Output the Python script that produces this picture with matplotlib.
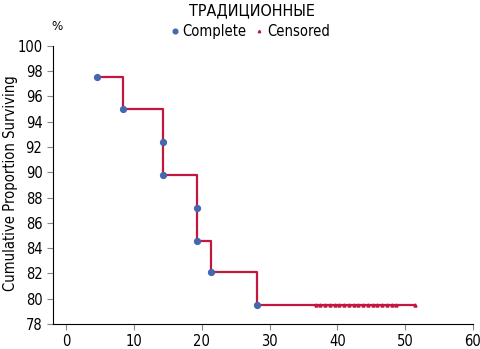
import matplotlib
matplotlib.use("Agg")
import matplotlib.pyplot as plt

plt.rcParams['font.family'] = ['Liberation Sans Narrow', 'DejaVu Sans']
plt.rcParams['font.stretch'] = 'condensed'

# complete (event) points
event_t = [4.5, 8.3, 14.3, 14.3, 19.3, 19.3, 21.3, 28.2]
event_s = [97.5, 95.0, 92.4, 89.8, 87.2, 84.6, 82.1, 79.5]
# censored observations
cens_t = [36.8, 37.5, 38.2, 38.9, 39.6, 40.3, 41.0, 41.7, 42.4, 43.1,
          43.8, 44.5, 45.2, 45.9, 46.6, 47.3, 48.0, 48.7, 51.5]
cens_s = [79.5] * len(cens_t)

line_col = '#c4173f'
dot_col = '#4468b0'

fig = plt.figure(figsize=(4.8, 3.49), dpi=100)
ax = fig.add_axes([0.110, 0.0716, 0.875, 0.797])

# step curve
xs = [event_t[0]]
ys = [event_s[0]]
for t, s in zip(event_t[1:], event_s[1:]):
    xs += [t, t]
    ys += [ys[-1], s]
xs.append(cens_t[-1])
ys.append(ys[-1])
ax.plot(xs, ys, color=line_col, lw=1.6, zorder=2)

ax.plot(event_t, event_s, 'o', color=dot_col, ms=4.2, zorder=3, label='Complete')
ax.plot(cens_t, cens_s, '^', color=line_col, ms=2.2, zorder=3, label='Censored')

ax.set_xlim(-2, 60)
ax.set_ylim(78, 100)
ax.set_xticks(range(0, 61, 10))
ax.set_yticks(range(78, 101, 2))
ax.spines['top'].set_visible(False)
ax.spines['right'].set_visible(False)
ax.tick_params(labelsize=10.5, length=4, color='#888888')
ax.set_ylabel('Cumulative Proportion Surviving', fontsize=10.6)
ax.yaxis.set_label_coords(-0.083, 0.505)

fig.text(0.524, 0.97, 'ТРАДИЦИОННЫЕ', ha='center', va='center', fontsize=11.5)
fig.text(0.108, 0.925, '%', ha='left', va='center', fontsize=9.5)
leg = ax.legend(loc='center', bbox_to_anchor=(0.522, 0.91), bbox_transform=fig.transFigure,
                ncol=2, frameon=False, fontsize=10.5, handlelength=0.5, handletextpad=0.3,
                columnspacing=0.6, borderpad=0, markerscale=0.8)

fig.savefig('out.png', dpi=100)
